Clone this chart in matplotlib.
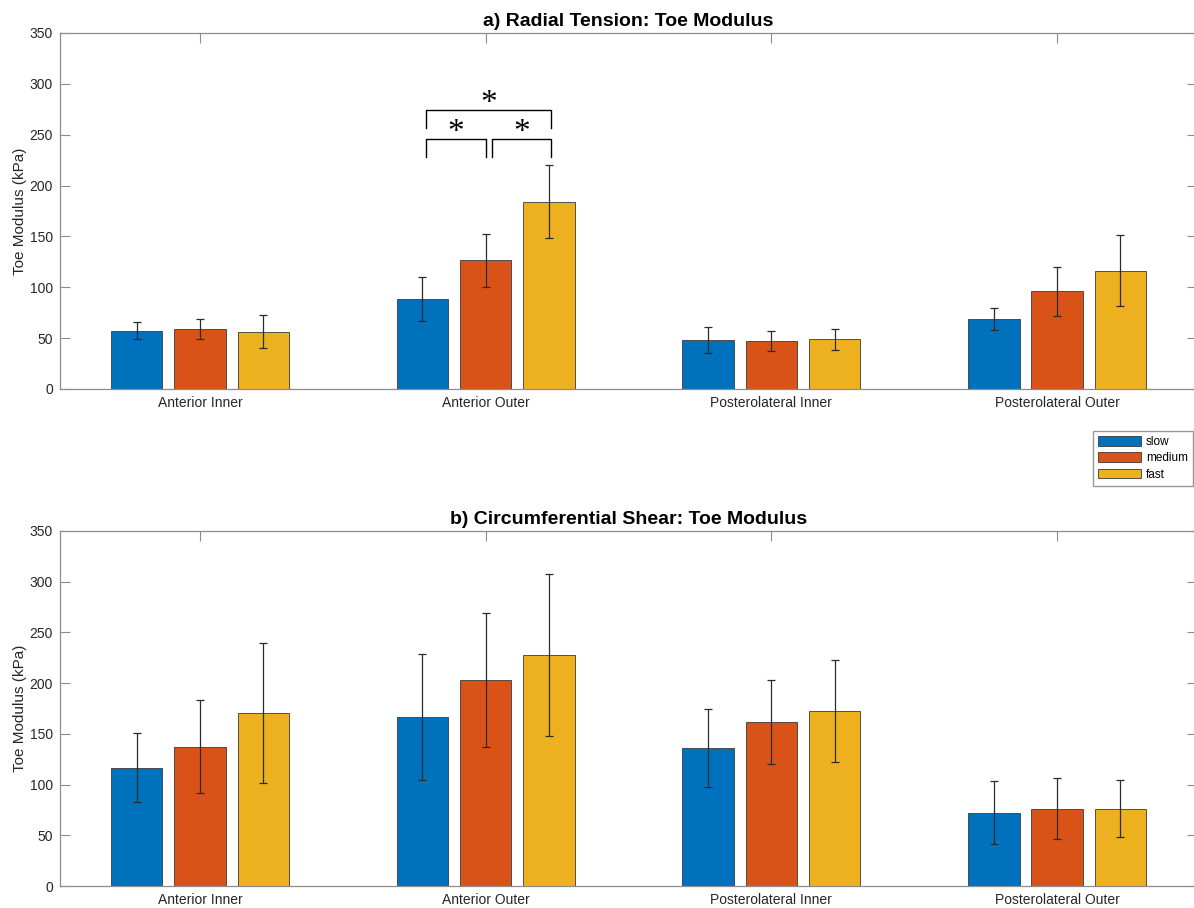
import numpy as np
import matplotlib
matplotlib.use("Agg")
import matplotlib.pyplot as plt

plt.rcParams['font.family'] = ['Liberation Sans', 'DejaVu Sans']

regions = ["Anterior Inner", "Anterior Outer", "Posterolateral Inner", "Posterolateral Outer"]
speeds = ["slow", "medium", "fast"]
colors = ["#0072BD", "#D95319", "#EDB120"]

# radial tension toe modulus (kPa), rows = speed, cols = region
tension_mean = [
    [57.4, 88.5, 48.2, 68.5],
    [58.7, 126.5, 47.2, 96.0],
    [56.4, 184.2, 48.9, 116.5],
]
tension_sd = [
    [8.2, 22.0, 12.8, 10.8],
    [9.8, 26.2, 10.0, 24.0],
    [16.4, 36.0, 10.5, 35.2],
]

# circumferential shear toe modulus (kPa)
shear_mean = [
    [116.7, 166.3, 135.8, 72.3],
    [137.4, 203.1, 162.0, 76.2],
    [170.2, 227.7, 172.9, 76.2],
]
shear_sd = [
    [34.2, 62.1, 38.5, 31.2],
    [45.5, 66.4, 41.5, 29.8],
    [68.9, 79.7, 50.2, 28.1],
]

# significance brackets on the radial tension panel: (region, speed a, speed b, height)
sig_pairs = [(1, 0, 1, 245.5), (1, 1, 2, 245.5), (1, 0, 2, 274.0)]

W, H = 1194, 908
fig = plt.figure(figsize=(W / 100, H / 100), dpi=100)

x = np.arange(1, len(regions) + 1)
offset = 0.2215
width = 0.18
grey = "#262626"

# axes run slightly past the right edge of the figure
ax_left, ax_right = 60, 1197
xmin, xmax = 0.51, 4.5 - 3 / 285.7


def draw_panel(ax, means, sds, title):
    for i, sp in enumerate(speeds):
        pos = x + (i - 1) * offset
        ax.bar(pos, means[i], width, color=colors[i], edgecolor="#3a3a3a",
               linewidth=0.6, label=sp, zorder=2)
        ax.errorbar(pos, means[i], yerr=sds[i], fmt="none", ecolor="#2b2b2b",
                    elinewidth=0.9, capsize=3, capthick=0.9, zorder=3)
    ax.set_xlim(xmin, xmax)
    ax.set_ylim(0, 350)
    ax.set_yticks(np.arange(0, 351, 50))
    ax.set_xticks(x)
    ax.set_xticklabels(regions)
    ax.tick_params(direction="in", length=7, width=0.8, color="#8c8c8c",
                   labelcolor=grey, labelsize=10, top=True, right=True, pad=5)
    for s in ax.spines.values():
        s.set_color("#8c8c8c")
        s.set_linewidth(0.9)
    ax.spines["right"].set_visible(False)
    ax.set_ylabel("Toe Modulus (kPa)", fontsize=11, color=grey, labelpad=2)
    ax.set_title(title, fontsize=14, fontweight="bold", color="black", pad=5)


ax1 = fig.add_axes([ax_left / W, 1 - 389 / H, (ax_right - ax_left) / W, 356 / H])
draw_panel(ax1, tension_mean, tension_sd, "a) Radial Tension: Toe Modulus")

ax2 = fig.add_axes([ax_left / W, 1 - 886 / H, (ax_right - ax_left) / W, 355 / H])
draw_panel(ax2, shear_mean, shear_sd, "b) Circumferential Shear: Toe Modulus")

# brackets with asterisks
leg = 17
for reg, a, b, h in sig_pairs:
    xa = x[reg] + (a - 1) * offset + (0.023 if a == 1 else 0.012)
    xb = x[reg] + (b - 1) * offset + (0.008 if b == 2 else 0.0)
    ax1.plot([xa, xa, xb, xb], [h - leg, h, h, h - leg], color="black",
             linewidth=1.0, solid_joinstyle="round", zorder=4)
    ax1.text((xa + xb) / 2, h - 9, "*", ha="center", va="bottom",
             fontsize=24, family="Liberation Serif", color="black")

h, l = ax1.get_legend_handles_labels()
fig.legend(h, l, loc="upper right", bbox_to_anchor=(1193 / W, 1 - 431 / H),
           fontsize=8.5, frameon=True, fancybox=False, edgecolor="#7f7f7f",
           handlelength=3.6, handleheight=0.9, handletextpad=0.4,
           labelspacing=0.35, borderpad=0.45, borderaxespad=0)

fig.savefig("out.png", dpi=100, facecolor="white")
